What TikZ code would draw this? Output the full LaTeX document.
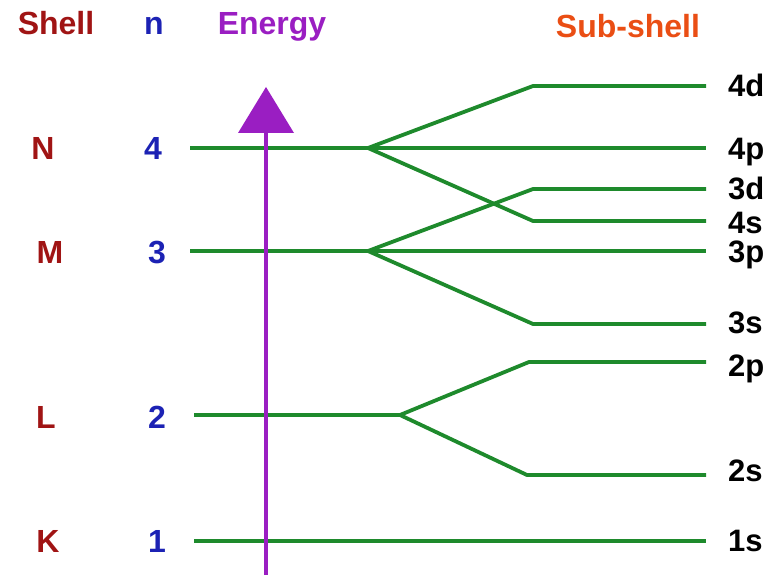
\documentclass[tikz,border=0pt]{standalone}
\usepackage{fontspec}
\setmainfont{Liberation Sans}
\definecolor{shellred}{HTML}{A01414}
\definecolor{nblue}{HTML}{1C22B4}
\definecolor{epurple}{HTML}{9A1EC2}
\definecolor{suborange}{HTML}{EA4E14}
\definecolor{lvgreen}{HTML}{1E8A2C}
\tikzset{
  lbl/.style={inner sep=0pt, anchor=base, font=\fontsize{32}{38}\selectfont\bfseries},
  sublbl/.style={inner sep=0pt, anchor=base west, font=\fontsize{31}{37}\selectfont\bfseries, text=black},
  level/.style={draw=lvgreen, line width=3.8pt, line join=round},
}
\begin{document}
\begin{tikzpicture}[x=1pt, y=-1pt]
\useasboundingbox (0,0) rectangle (771,575);
% headers
\node[lbl, text=shellred] (hshell) at (56,35) {Shell};
\node[lbl, text=nblue] (hn) at (154,35) {n};
\node[lbl, text=epurple] (henergy) at (272,35) {Energy};
\node[lbl, text=suborange] (hsub) at (628,38) {Sub-shell};
% shell letters
\node[lbl, text=shellred] (sN) at (43,160) {N};
\node[lbl, text=shellred] (sM) at (50,263) {M};
\node[lbl, text=shellred] (sL) at (46,428) {L};
\node[lbl, text=shellred] (sK) at (48,552) {K};
% n numbers
\node[lbl, text=nblue] (n4) at (153,160) {4};
\node[lbl, text=nblue] (n3) at (157,263) {3};
\node[lbl, text=nblue] (n2) at (157,428) {2};
\node[lbl, text=nblue] (n1) at (157,552) {1};
% sub-shell labels
\node[sublbl] (l4d) at (728,97) {4d};
\node[sublbl] (l4p) at (728,160) {4p};
\node[sublbl] (l3d) at (728,199) {3d};
\node[sublbl] (l4s) at (728,233) {4s};
\node[sublbl] (l3p) at (728,262) {3p};
\node[sublbl] (l3s) at (728,333) {3s};
\node[sublbl] (l2p) at (728,376) {2p};
\node[sublbl] (l2s) at (728,481) {2s};
\node[sublbl] (l1s) at (728,551) {1s};
% coordinates
\coordinate (N0) at (190,148); \coordinate (Nb) at (368,148);
\coordinate (d4a) at (533,86); \coordinate (d4b) at (706,86);
\coordinate (p4b) at (706,148);
\coordinate (s4a) at (533,221); \coordinate (s4b) at (706,221);
\coordinate (M0) at (190,251); \coordinate (Mb) at (368,251);
\coordinate (d3a) at (533,189); \coordinate (d3b) at (706,189);
\coordinate (p3b) at (706,251);
\coordinate (s3a) at (533,324); \coordinate (s3b) at (706,324);
\coordinate (L0) at (194,415); \coordinate (Lb) at (400,415);
\coordinate (p2a) at (529,362); \coordinate (p2b) at (706,362);
\coordinate (s2a) at (527,475); \coordinate (s2b) at (706,475);
\coordinate (K0) at (194,541); \coordinate (s1b) at (706,541);
% levels
\draw[level] (N0) -- (Nb);
\draw[level] (Nb) -- (d4a) -- (d4b);
\draw[level] (Nb) -- (p4b);
\draw[level] (Nb) -- (s4a) -- (s4b);
\draw[level] (M0) -- (Mb);
\draw[level] (Mb) -- (d3a) -- (d3b);
\draw[level] (Mb) -- (p3b);
\draw[level] (Mb) -- (s3a) -- (s3b);
\draw[level] (L0) -- (Lb);
\draw[level] (Lb) -- (p2a) -- (p2b);
\draw[level] (Lb) -- (s2a) -- (s2b);
\draw[level] (K0) -- (s1b);
% energy arrow
\coordinate (ebot) at (266,575);
\coordinate (etop) at (266,132);
\coordinate (apex) at (266,87);
\coordinate (bl) at (238,133);
\coordinate (br) at (294,133);
\draw[draw=epurple, line width=3.8pt] (ebot) -- (etop);
\fill[epurple] (apex) -- (br) -- (bl) -- cycle;
\end{tikzpicture}
\end{document}
